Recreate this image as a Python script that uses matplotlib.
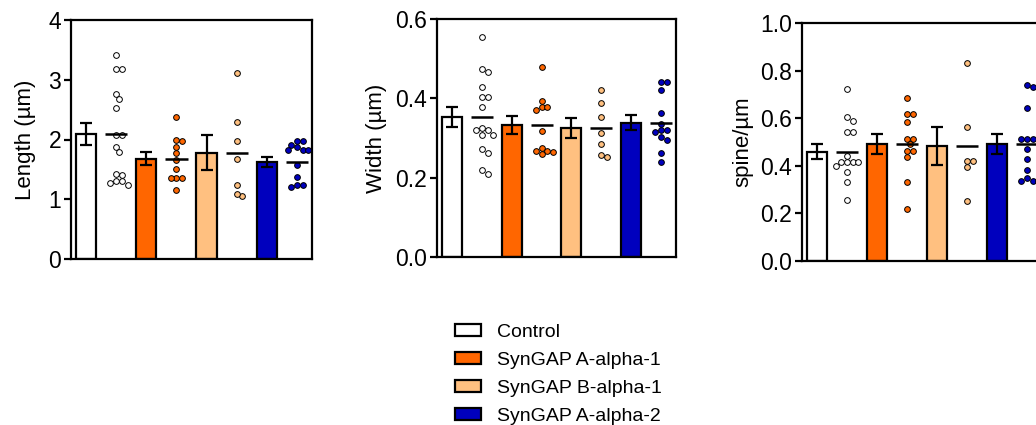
import numpy as np
import matplotlib
matplotlib.use("Agg")
import matplotlib.pyplot as plt
from matplotlib.patches import Patch

plt.rcParams['font.family'] = ['Liberation Sans', 'DejaVu Sans']

groups = ["Control", "SynGAP A-alpha-1", "SynGAP B-alpha-1", "SynGAP A-alpha-2"]
colors = ["#FFFFFF", "#FF6600", "#FFC080", "#0000BE"]

# Length (um)
length_mean = [2.09, 1.68, 1.78, 1.62]
length_sem = [0.19, 0.11, 0.29, 0.085]
length_pts = [
    [3.42, 3.18, 3.18, 2.76, 2.68, 2.52, 2.07, 2.08, 1.87, 1.79, 1.43, 1.40, 1.30, 1.24, 1.30, 1.28],
    [2.38, 1.99, 1.98, 1.88, 1.77, 1.66, 1.51, 1.36, 1.36, 1.36, 1.16],
    [3.11, 2.30, 1.97, 1.68, 1.24, 1.06, 1.08],
    [1.97, 1.90, 1.97, 1.88, 1.82, 1.82, 1.82, 1.57, 1.38, 1.24, 1.24, 1.20],
]
# Width (um)
width_mean = [0.352, 0.332, 0.326, 0.339]
width_sem = [0.025, 0.023, 0.025, 0.019]
width_pts = [
    [0.555, 0.474, 0.467, 0.428, 0.403, 0.403, 0.377, 0.326, 0.319, 0.319, 0.308, 0.308, 0.273, 0.263, 0.219, 0.208],
    [0.479, 0.394, 0.378, 0.370, 0.377, 0.318, 0.274, 0.268, 0.266, 0.259, 0.264],
    [0.421, 0.389, 0.353, 0.312, 0.285, 0.253, 0.258],
    [0.440, 0.442, 0.421, 0.362, 0.336, 0.319, 0.319, 0.316, 0.303, 0.295, 0.261, 0.239],
]
# spine density (spine/um)
density_mean = [0.459, 0.491, 0.483, 0.491]
density_sem = [0.032, 0.042, 0.081, 0.042]
density_pts = [
    [0.722, 0.603, 0.587, 0.540, 0.540, 0.440, 0.414, 0.414, 0.414, 0.414, 0.400, 0.373, 0.331, 0.255],
    [0.685, 0.617, 0.617, 0.583, 0.512, 0.512, 0.491, 0.462, 0.462, 0.436, 0.333, 0.217],
    [0.831, 0.562, 0.420, 0.420, 0.396, 0.252],
    [0.731, 0.738, 0.641, 0.512, 0.512, 0.512, 0.469, 0.428, 0.382, 0.347, 0.336, 0.336, 0.336],
]

panels = [
    ("Length (\u00b5m)", length_mean, length_sem, length_pts, (0, 4), [0, 1, 2, 3, 4], "{:.0f}", 9),
    ("Width (\u00b5m)", width_mean, width_sem, width_pts, (0, 0.6), [0.0, 0.2, 0.4, 0.6], "{:.1f}", 6),
    ("spine/\u00b5m", density_mean, density_sem, density_pts, (0, 1.0), [0.0, 0.2, 0.4, 0.6, 0.8, 1.0], "{:.1f}", 5),
]

W, H = 1036, 425
fig = plt.figure(figsize=(W / 100, H / 100), dpi=100)

# axes boxes in pixels: left, top, right, bottom
boxes = [(71, 20, 312, 259), (437, 19, 676, 257), (802, 23, 1042, 261)]


def swarm(vals, px_per_y, px_per_x, diam):
    vals = np.asarray(vals, float)
    order = np.argsort(-vals)
    placed = []
    offs = np.zeros(len(vals))
    step = diam * 0.55
    cands = [0.0]
    for k in range(1, 20):
        cands += [k * step, -k * step]
    for i in order:
        y = vals[i] * px_per_y
        for c in cands:
            ok = True
            for (px, py) in placed:
                if (px - c) ** 2 + (py - y) ** 2 < (diam * 1.02) ** 2:
                    ok = False
                    break
            if ok:
                placed.append((c, y))
                offs[i] = c / px_per_x
                break
    return offs


for (ylab, means, sems, pts, ylim, yticks, fmt, lpad), (l, t, r, b) in zip(panels, boxes):
    ax = fig.add_axes([l / W, (H - b) / H, (r - l) / W, (b - t) / H])
    ax.set_xlim(-0.5, 7.5)
    ax.set_ylim(*ylim)
    px_per_x = (r - l) / 8.0
    px_per_y = (b - t) / (ylim[1] - ylim[0])
    for g in range(4):
        xb = 2 * g
        ax.bar(xb, means[g], width=0.67, color=colors[g], edgecolor="black",
               linewidth=1.6, zorder=2)
        ax.errorbar(xb, means[g], yerr=sems[g], fmt="none", ecolor="black",
                    elinewidth=1.6, capsize=4, capthick=1.6, zorder=3)
        xs = 2 * g + 1
        offs = swarm(pts[g], px_per_y, px_per_x, 5.2)
        ax.scatter(xs + offs, pts[g], s=17, facecolor=colors[g], edgecolor="black",
                   linewidth=0.7, zorder=4, clip_on=False)
        ax.hlines(means[g], xs - 0.37, xs + 0.37, color="black", linewidth=1.8, zorder=5)
    for s in ax.spines.values():
        s.set_linewidth(1.6)
    ax.set_xticks([])
    ax.set_yticks(yticks)
    ax.set_yticklabels([fmt.format(v) for v in yticks])
    ax.tick_params(axis="y", length=5, width=1.6, labelsize=16.5, pad=2)
    ax.set_ylabel(ylab, fontsize=16, labelpad=lpad)

handles = [Patch(facecolor=c, edgecolor="black", linewidth=1.6) for c in colors]
fig.legend(handles, groups, loc="upper left", bbox_to_anchor=(455 / W, 1 - 324 / H),
           frameon=False, fontsize=14, handlelength=1.35, handleheight=0.6,
           labelspacing=0.56, handletextpad=0.8, borderpad=0, borderaxespad=0)

fig.savefig("out.png", dpi=100)
